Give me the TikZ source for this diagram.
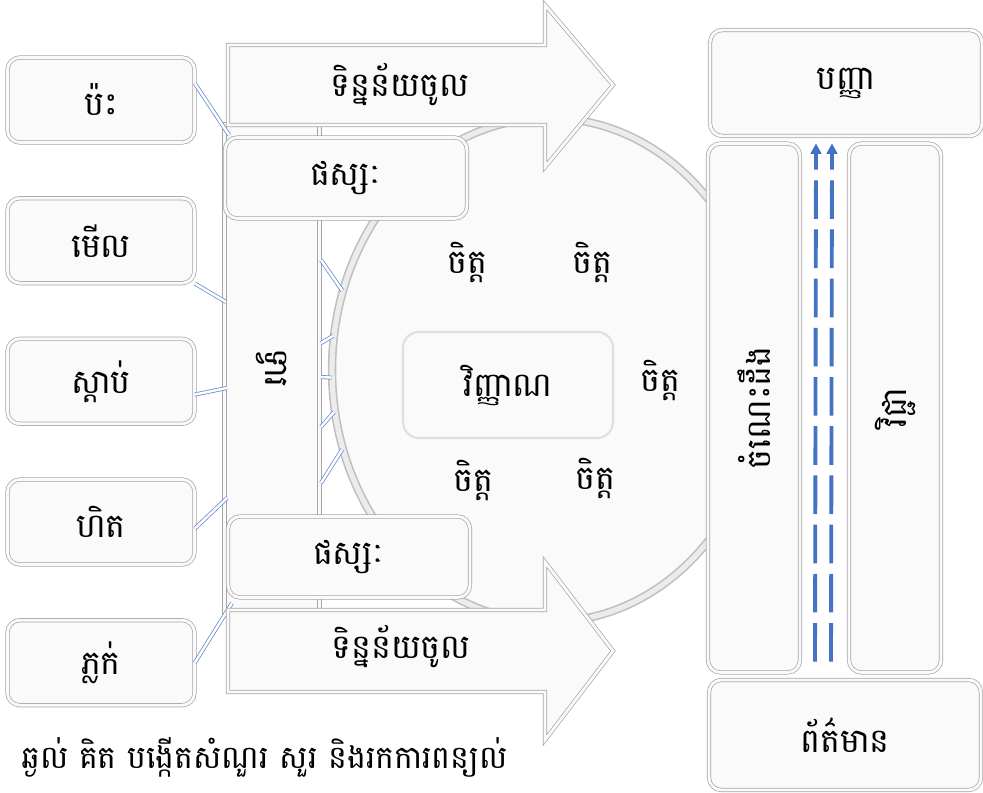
\documentclass[tikz,border=0pt]{standalone}
\usepackage{fontspec}
\newfontfamily\khmerfont[Script=Khmer]{Battambang}
\usetikzlibrary{positioning,arrows.meta,shapes.geometric}
\definecolor{BoxFill}{RGB}{250,250,250}
\definecolor{BoxLine}{RGB}{165,165,165}
\definecolor{LinkBlue}{RGB}{68,114,196}

\begin{document}
\begin{tikzpicture}[
x=0.02cm,y=-0.02cm,
node distance=1.1cm,
every node/.style={font=\khmerfont\fontsize{19}{22}\selectfont},
box/.style={rectangle,rounded corners=7pt,draw=BoxLine,double=BoxFill,double distance=1.6pt,fill=BoxFill,inner sep=0pt,align=center},
sense/.style={box,minimum width=3.74cm,minimum height=1.7cm},
contact/.style={box,minimum width=4.84cm,minimum height=1.62cm},
column/.style={box,minimum width=1.84cm,minimum height=10.58cm},
wide/.style={box,minimum width=5.44cm,minimum height=2.12cm},
softbox/.style={rectangle,rounded corners=9pt,draw=gray!25,line width=1.2pt,fill=BoxFill,minimum width=4.2cm,minimum height=2.12cm},
bigarrow/.style={draw=BoxLine,double=BoxFill,double distance=1.6pt,fill=BoxFill,line join=miter},
link/.style={draw=LinkBlue!80,double=white,double distance=1.4pt,line width=0.45pt},
flow/.style={-{Triangle[length=6pt,width=6pt]},draw=LinkBlue,line width=2.2pt,dash pattern=on 22pt off 6pt}
]
\useasboundingbox (0,0) rectangle (983,793);

% mind circle behind everything
\node[ellipse,draw=gray!50,line width=0.9pt,double=gray!15,double distance=3pt,fill=BoxFill,minimum width=8.68cm,minimum height=10.08cm] (mind) at (549,370) {};

% door bar
\node[box,rounded corners=0pt,minimum width=1.9cm,minimum height=9.74cm] (door) at (272,368) {\rotatebox{-90}{ទ្វារ}};

% five senses
\node[sense] (touch) at (101,100) {ប៉ះ};
\node[sense,below=of touch] (see) {មើល};
\node[sense,below=of see] (hear) {ស្ដាប់};
\node[sense,below=of hear] (smell) {ហិត};
\node[sense,below=of smell] (taste) {ភ្លក់};

\coordinate (dTouch) at (229,135);
\coordinate (dSee) at (226,302);
\coordinate (dHear) at (227,388);
\coordinate (dSmell) at (227,498);
\coordinate (dTaste) at (232,603);
\draw[link] (touch.10) -- (dTouch);
\draw[link] (see.south east) -- (dSee);
\draw[link] (hear.-8) -- (dHear);
\draw[link] (smell.-4) -- (dSmell);
\draw[link] (taste.east) -- (dTaste);

\foreach \ya/\ang [count=\i] in {260/159.5,343/171.6,377/182,427/191.8,483/201.7}{
  \coordinate (r\i) at (321,\ya);
  \draw[link] (r\i) -- (mind.\ang);
}

% input arrows
\draw[bigarrow] (228,45) -- (545,45) -- (545,5) -- (613,85) -- (545,167) -- (545,125) -- (228,125) -- cycle;
\node (dataTop) at (400,85) {ទិន្នន័យចូល};
\draw[bigarrow] (228,610) -- (545,610) -- (545,562) -- (613,651) -- (545,740) -- (545,692) -- (228,692) -- cycle;
\node (dataBot) at (401,647) {ទិន្នន័យចូល};

\node[contact] (contactTop) at (346,178) {ផស្សៈ};
\node[contact] (contactBot) at (349,557) {ផស្សៈ};

% inside the mind
\node[softbox] (vinnana) at (508,385) {វិញ្ញាណ};
\node (c1) at (467,262) {ចិត្ត};
\node (c2) at (592,262) {ចិត្ត};
\node (c3) at (660,380) {ចិត្ត};
\node (c4) at (473,480) {ចិត្ត};
\node (c5) at (595,478) {ចិត្ត};

% right side
\node[wide] (panya) at (846,83) {បញ្ញា};
\node[column] (know) at (754,408) {\rotatebox{90}{ចំណេះដឹង}};
\node[column] (wisdom) at (895,408) {\rotatebox{90}{វិជ្ជា}};
\node[wide,minimum height=2.2cm] (info) at (845,735) {ព័ត៌មាន};
\draw[flow] ([xshift=-0.6cm,yshift=0.36cm]info.north) -- ([xshift=-0.6cm,yshift=-0.14cm]panya.south);
\draw[flow] ([xshift=-0.28cm,yshift=0.36cm]info.north) -- ([xshift=-0.28cm,yshift=-0.14cm]panya.south);

\node[anchor=west,font=\khmerfont\fontsize{18}{21}\selectfont] (question) at (15,757) {ឆ្ងល់ គិត បង្កើតសំណួរ សួរ និងរកការពន្យល់};
\end{tikzpicture}
\end{document}
